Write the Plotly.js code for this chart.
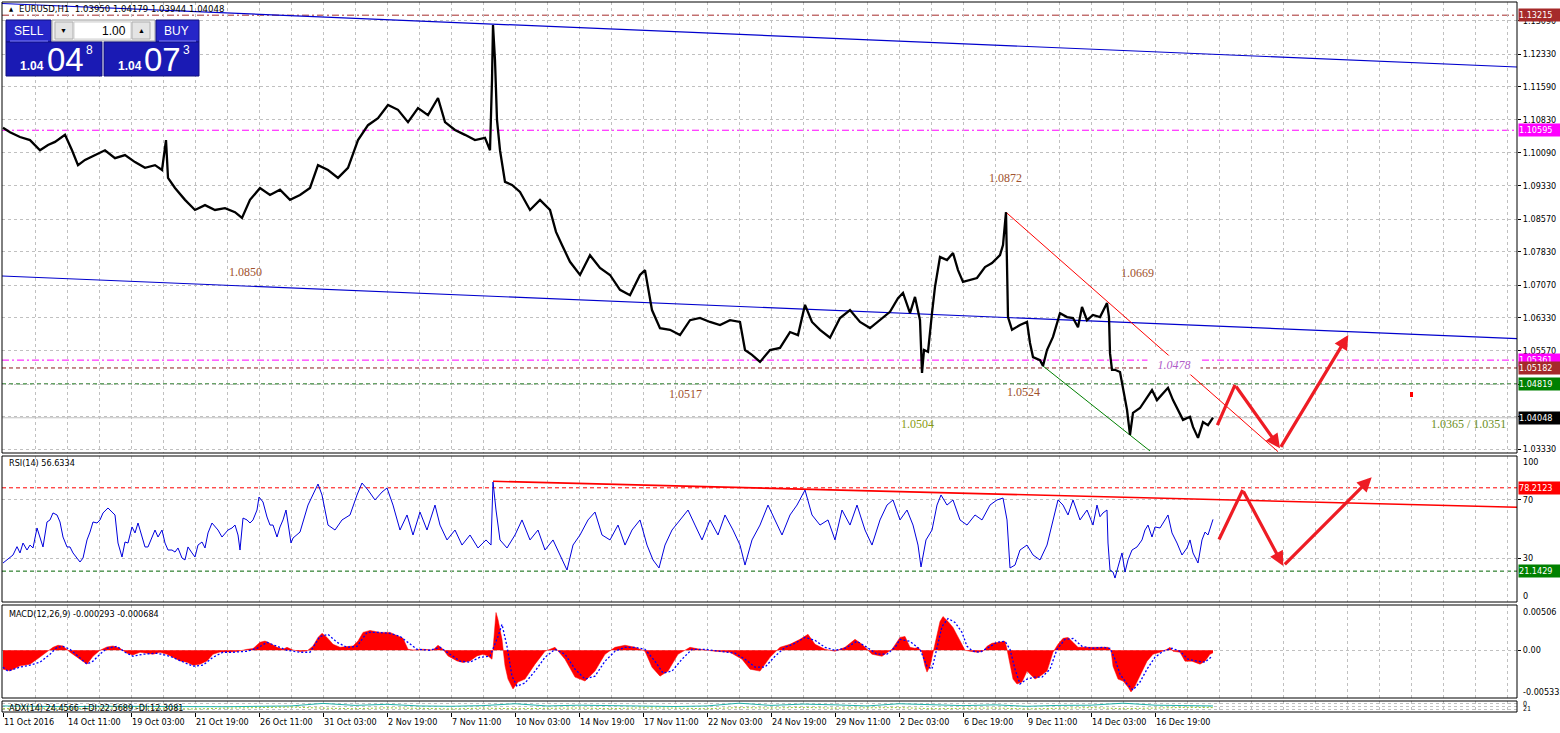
<!DOCTYPE html>
<html>
<head>
<meta charset="utf-8">
<script src="https://cdn.plot.ly/plotly-3.0.1.min.js"></script>
<style>
html,body{margin:0;padding:0;background:#ffffff;overflow:hidden;}
#chart{width:1560px;height:733px;}
</style>
</head>
<body>
<div id="chart"></div>
<script>
// ================= DATA =================
// time axis: bar index (1 bar = 1 hour of trading), labels every 64 bars
const timeTickBars = [0,64,128,192,256,320,384,448,512,576,640,704,768,832,896,960,1024,1088,1152];
const timeTickLabels = ["11 Oct 2016","14 Oct 11:00","19 Oct 03:00","21 Oct 19:00","26 Oct 11:00","31 Oct 03:00","2 Nov 19:00","7 Nov 11:00","10 Nov 03:00","14 Nov 19:00","17 Nov 11:00","22 Nov 03:00","24 Nov 19:00","29 Nov 11:00","2 Dec 03:00","6 Dec 19:00","9 Dec 11:00","14 Dec 03:00","16 Dec 19:00"];
const priceTickVals = [1.13090,1.12330,1.11590,1.10830,1.10090,1.09330,1.08570,1.07830,1.07070,1.06330,1.05570,1.04810,1.04070,1.03330];
const priceTickText = ["1.13090","1.12330","1.11590","1.10830","1.10090","1.09330","1.08570","1.07830","1.07070","1.06330","1.05570","","","1.03330"];

// EURUSD H1 price path
const priceBars = [0,7,17,27,37,45,52,62,69,75,82,92,102,112,122,132,142,152,159,163,165,172,182,192,202,212,222,232,239,247,257,267,277,287,297,307,315,325,335,345,355,365,375,385,395,405,415,425,435,442,452,462,472,482,487,489,490,492,494,497,502,509,517,527,537,547,553,559,567,577,587,597,607,617,627,637,642,649,657,667,677,687,697,707,717,727,737,742,749,757,767,777,787,795,802,809,817,827,837,847,857,867,877,887,895,
900,907,912,917,919,921,925,929,932,937,944,950,955,960,967,974,982,989,997,1000,1003,1004,1005,1009,1017,1024,1027,1030,1037,1040,1044,1050,1057,1064,1070,1075,1079,1084,1090,1097,1104,1106,1107,1109,1112,1117,1120,1124,1127,1130,1137,1144,1149,1154,1160,1165,1170,1175,1180,1187,1190,1195,1200,1205,1210];
const priceVals = [1.1065,1.1055,1.1044,1.1037,1.1014,1.1026,1.1033,1.1049,1.1014,1.0980,1.0992,1.1003,1.1014,1.0996,1.1003,1.0987,1.0974,1.0980,1.0969,1.1037,1.0951,1.0928,1.0901,1.0878,1.0889,1.0878,1.0882,1.0873,1.0860,1.0901,1.0928,1.0912,1.0924,1.0901,1.0912,1.0928,1.0980,1.0969,1.0951,1.0974,1.1037,1.1071,1.1087,1.1117,1.1106,1.1078,1.1110,1.1094,1.1133,1.1078,1.1060,1.1049,1.1037,1.1042,1.1014,1.1174,1.1299,1.1219,1.1083,1.1014,1.0942,1.0935,1.0919,1.0878,1.0901,1.0878,1.0828,1.0798,1.0760,1.0730,1.0775,1.0746,1.0730,1.0696,1.0684,1.0730,1.0741,1.0650,1.0609,1.0605,1.0593,1.0627,1.0632,1.0623,1.0616,1.0627,1.0623,1.0559,1.0548,1.0532,1.0559,1.0564,1.0600,1.0593,1.0662,1.0623,1.0605,1.0587,1.0632,1.0650,1.0623,1.0609,1.0627,1.0646,1.0677,
1.0689,1.0643,1.0680,1.0627,1.0507,1.0559,1.0555,1.0643,1.0703,1.0771,1.0764,1.0780,1.0741,1.0714,1.0719,1.0723,1.0748,1.0757,1.0775,1.0798,1.0873,1.0741,1.0634,1.0605,1.0616,1.0623,1.0575,1.0543,1.0536,1.0523,1.0559,1.0589,1.0643,1.0634,1.0632,1.0611,1.0657,1.0627,1.0639,1.0634,1.0666,1.0634,1.0552,1.0514,1.0514,1.0509,1.0468,1.0423,1.0366,1.0416,1.0427,1.0452,1.0468,1.0445,1.0461,1.0473,1.0445,1.0423,1.0400,1.0407,1.0384,1.0359,1.0395,1.0388,1.0405];

// horizontal levels (main window)
const levelVals = [1.13215,1.10595,1.05361,1.05182,1.04819,1.04048];

// trend lines (main window)
const upperTrendBars = [-1,1514], upperTrendVals = [1.13481,1.12035];
const lowerTrendBars = [-1,1514], lowerTrendVals = [1.07276,1.05851];
const redTrendBars = [1003,1275], redTrendVals = [1.08727,1.03276];
const greenTrendBars = [1040,1147], greenTrendVals = [1.05227,1.03292];
const zigBars = [1213.7,1232,1277,1345.3], zigVals = [1.03845,1.04795,1.03353,1.05933];

// text labels on the chart
const noteTexts = ["1.0850","1.0517","1.0504","1.0872","1.0669","1.0524","1.0478","1.0365 / 1.0351"];

// RSI(14)
const rsiBars = [0,4,10,14,17,20,24,27,30,34,37,40,44,47,50,54,57,60,64,67,70,74,77,80,84,87,90,94,97,100,105,109,112,115,119,122,125,129,132,135,139,142,145,149,152,155,159,162,165,169,172,175,179,182,185,189,192,195,199,202,205,209,212,215,219,222,225,229,232,235,237,240,244,247,250,254,256,260,264,267,270,274,277,280,283,285,288,290,294,297,
305,312,315,319,325,332,339,347,354,359,365,372,379,384,390,397,404,410,417,424,432,437,444,452,459,467,475,483,488,490,493,497,504,512,519,527,535,542,550,557,564,570,577,585,592,599,607,615,622,629,637,644,650,656,662,669,677,685,692,699,707,715,722,730,737,742,749,757,765,772,779,787,794,802,809,817,825,832,839,847,854,862,869,877,884,890,897,904,910,915,918,923,929,934,938,944,950,957,964,972,979,987,994,1000,1004,1007,1012,1017,1024,1030,1037,1044,1050,1055,1060,1065,1070,1077,1084,1090,1094,
1097,1100,1104,1105,1107,1110,1112,1115,1119,1122,1125,1129,1134,1139,1142,1145,1149,1152,1157,1162,1165,1169,1174,1179,1184,1187,1190,1195,1199,1202,1205,1210];
const rsiVals = [26.7,28.8,32.2,37.9,33.6,40.4,35.6,39.0,37.0,50.7,43.8,37.7,54.8,56.2,61.0,59.6,54.8,44.5,37.7,37.7,33.6,30.1,27.4,30.1,42.5,47.9,54.8,54.1,56.2,61.0,64.4,61.6,59.6,40.4,30.8,41.1,40.4,51.4,47.3,54.1,43.8,37.7,37.7,43.8,49.3,44.5,49.3,40.4,35.6,35.6,34.2,37.0,30.1,28.8,37.7,33.6,30.8,39.0,41.1,37.0,47.3,54.1,51.4,49.3,44.5,47.3,49.3,50.7,52.7,45.9,35.6,57.5,56.2,54.1,56.2,63.0,71.9,68.5,58.2,52.7,52.7,44.5,51.4,56.2,63.0,54.1,40.4,43.8,45.9,47.9,
66.4,76.7,80.8,73.3,52.7,49.3,56.2,59.6,73.3,81.5,76.7,69.9,75.3,78.1,66.4,49.3,59.6,45.9,61.6,49.3,66.4,52.7,42.5,49.3,39.0,45.9,37.0,42.5,39.0,82.2,63.0,42.5,37.0,45.9,56.2,42.5,49.3,35.6,42.5,32.2,21.9,39.0,45.9,56.2,61.6,45.9,42.5,52.7,39.0,49.3,56.2,39.0,28.8,23.3,39.0,49.3,56.2,63.0,52.7,42.5,56.2,45.9,59.6,49.3,39.0,25.3,42.5,52.7,66.4,56.2,45.9,59.6,66.4,76.7,59.6,52.7,56.2,42.5,63.0,52.7,66.4,49.3,39.0,56.2,66.4,69.9,56.2,63.0,52.7,39.0,24.0,42.5,49.3,66.4,73.3,66.4,69.9,56.2,52.7,59.6,56.2,66.4,69.9,71.2,56.2,23.3,25.3,35.6,39.0,32.2,28.8,39.0,56.2,69.9,66.4,59.6,69.9,56.2,63.0,52.7,66.4,
58.4,61.0,63.0,40.4,21.9,20.5,16.4,24.0,33.6,20.5,28.8,35.6,37.7,42.5,49.3,52.7,44.5,51.4,50.7,56.2,59.6,47.3,40.4,32.2,37.0,42.5,33.6,26.7,42.5,47.9,45.9,56.6];
const rsiLevels = [78.2123,21.1429];
const rsiTrendBars = [490,1514], rsiTrendVals = [82.7,64.9];
const rsiZigBars = [1215.3,1239.7,1280.3,1368.7], rsiZigVals = [41.8,76.7,24.7,85.4];

// MACD(12,26,9) main (histogram) and signal
const macdBars = [0,7,17,27,34,44,50,55,60,67,74,80,84,90,97,104,110,117,124,130,137,144,150,157,164,170,177,184,190,197,204,210,217,227,234,244,250,257,262,267,274,280,284,290,297,304,310,315,319,324,330,337,344,350,355,360,367,377,387,394,400,405,410,420,430,435,440,445,454,460,467,474,480,485,489,490,493,495,499,502,505,510,515,
522,532,542,552,562,572,582,592,602,612,622,632,642,649,657,665,675,687,697,712,727,739,747,757,767,777,787,797,805,812,822,832,842,852,859,869,879,889,
897,902,907,912,915,919,922,924,927,930,934,937,940,945,950,955,959,962,967,974,980,984,989,997,1002,1004,1007,1010,1014,1019,1024,1027,1032,1037,1044,1050,1055,1060,1065,1070,1075,1080,1087,1097,1105,1108,1110,1115,1120,1125,1128,1132,1137,1144,1150,1157,1164,1167,1170,1177,1182,1189,1197,1202,1207,1210];
const macdVals = [-0.00211,-0.00230,-0.00174,-0.00155,-0.00100,-0.00022,0.00033,0.00056,0.00048,-0.00022,-0.00078,-0.00133,-0.00155,-0.00067,0,0.00037,0.00048,0.00022,-0.00033,-0.00052,-0.00022,-0.00033,-0.00044,-0.00022,-0.00044,-0.00078,-0.00119,-0.00133,-0.00167,-0.00155,-0.00119,-0.00044,-0.00019,-0.00019,-0.00014,0.00011,0.00019,0.00089,0.00103,0.00078,0.00033,0.00011,0.00033,0.00003,-0.00014,-0.00008,0.00048,0.00144,0.00189,0.00144,0.00067,0.00033,0.00044,0.00048,0.00103,0.00200,0.00222,0.00200,0.00200,0.00159,0.00133,0.00011,0.00003,0.00011,0.00003,0.00056,0.00011,-0.00063,-0.00119,-0.00137,-0.00119,-0.00063,-0.00044,-0.00063,-0.00100,0.00011,0.00422,0.00344,0.00122,-0.00174,-0.00322,-0.00433,-0.00355,
-0.00322,-0.00155,-0.00011,0.00033,-0.00100,-0.00300,-0.00344,-0.00233,-0.00044,0.00033,0.00056,0.00033,-0.00011,-0.00189,-0.00289,-0.00233,-0.00044,0.00033,0.00011,-0.00011,-0.00022,-0.00100,-0.00211,-0.00233,-0.00078,0.00033,0.00067,0.00122,0.00178,0.00067,0.00011,-0.00011,0.00033,0.00122,0.00067,-0.00044,-0.00067,0.00011,
0.00144,0.00155,0.00033,0.00022,0.00033,-0.00022,-0.00178,-0.00244,-0.00178,-0.00022,0.00200,0.00322,0.00377,0.00322,0.00255,0.00155,0.00067,0,-0.00011,-0.00022,-0.00011,0.00044,0.00078,0.00089,0.00100,0.00011,-0.00178,-0.00322,-0.00377,-0.00355,-0.00233,-0.00266,-0.00322,-0.00289,-0.00233,-0.00022,0.00067,0.00133,0.00144,0.00089,0.00033,0.00033,0.00033,0.00033,0.00033,0,-0.00178,-0.00322,-0.00344,-0.00411,-0.00466,-0.00400,-0.00289,-0.00122,-0.00044,-0.00022,0.00011,0.00033,-0.00011,-0.00022,-0.00122,-0.00122,-0.00155,-0.00122,-0.00044,-0.00029];
const signalBars = [0,5,17,27,37,47,54,60,67,77,84,90,97,104,114,122,130,140,154,167,180,190,200,210,220,230,244,254,264,274,284,297,307,317,325,334,344,354,364,374,387,397,405,414,427,437,447,457,467,477,487,495,499,504,509,514,
522,532,542,552,562,572,582,592,602,612,622,632,642,652,660,669,679,689,702,717,732,742,752,762,772,782,792,802,812,822,832,842,854,864,874,884,892,
897,907,917,924,929,934,939,945,952,959,964,970,977,984,994,1002,1007,1012,1017,1024,1032,1039,1047,1054,1062,1070,1079,1089,1100,1107,1112,1117,1124,1130,1137,1144,1152,1160,1169,1177,1185,1194,1202,1209];
const signalVals = [-0.00189,-0.00233,-0.00189,-0.00167,-0.00133,-0.00044,0.00033,0.00044,0.00011,-0.00089,-0.00155,-0.00122,-0.00044,0.00022,0.00044,-0.00022,-0.00067,-0.00044,-0.00033,-0.00067,-0.00133,-0.00178,-0.00167,-0.00078,-0.00022,-0.00022,-0.00011,0.00022,0.00089,0.00044,0,-0.00022,-0.00022,0.00155,0.00178,0.00089,0.00033,0.00044,0.00200,0.00200,0.00189,0.00155,0.00089,0.00011,0,0.00033,-0.00044,-0.00122,-0.00133,-0.00078,-0.00067,0.00155,0.00289,0.00044,-0.00289,-0.00400,
-0.00366,-0.00233,-0.00078,0.00011,-0.00044,-0.00211,-0.00322,-0.00289,-0.00122,-0.00011,0.00033,0.00033,0.00011,-0.00122,-0.00255,-0.00233,-0.00100,0.00011,0.00011,-0.00011,-0.00033,-0.00100,-0.00189,-0.00189,-0.00067,0.00033,0.00078,0.00144,0.00111,0.00033,0,0.00022,0.00100,0.00033,-0.00044,-0.00044,0.00033,
0.00122,0.00100,0.00011,-0.00178,-0.00211,0.00011,0.00266,0.00355,0.00311,0.00200,0.00044,-0.00011,-0.00022,0.00022,0.00089,0.00100,0.00011,-0.00211,-0.00377,-0.00322,-0.00300,-0.00300,-0.00211,0.00011,0.00122,0.00133,0.00044,0.00022,0.00033,0.00022,-0.00100,-0.00266,-0.00377,-0.00444,-0.00355,-0.00211,-0.00078,-0.00011,0.00022,-0.00011,-0.00100,-0.00122,-0.00133,-0.00068];

// ADX(14) strip
const adxBars = [0,32,64,96,128,160,192,224,256,288,320,352,384,416,448,480,512,544,576,608,640,672,704,736,768,800,832,864,896,928,960,992,1024,1056,1088,1120,1152,1184,1210];
const adxVals = [55,50,48,52,50,47,50,48,52,55,78,60,70,55,52,58,75,55,62,58,52,50,55,80,60,72,65,55,75,68,58,65,52,60,62,80,62,58,55];
const pdiVals = [30,35,28,32,38,30,28,35,40,45,35,30,38,32,28,35,30,33,36,30,38,35,30,40,36,42,35,38,40,30,32,36,28,35,40,30,38,42,40];

// ================= LAYOUT HELPERS =================
const W=1560,H=733,ML=2,MR=43,MT=2,MB=21,PW=W-ML-MR,PH=H-MT-MB;
const px=x=>(x-ML)/PW, py=y=>(H-MB-y)/PH;
const FONT='DejaVu Sans Condensed, DejaVu Sans, sans-serif';
const UIF='Liberation Sans, Arial, sans-serif';
const SERIF='Liberation Serif, Times New Roman, serif';
const dMain=[py(453),1], dRsi=[py(602),py(456)], dMacd=[py(698),py(605)], dAdx=[0,py(701)];
const gridCol='#c0c0c0', gridDash='3px,3px';
const tf={family:FONT,size:9,color:'#000'};

const traces=[
 {x:upperTrendBars,y:upperTrendVals,yaxis:'y',mode:'lines',line:{color:'#0000cd',width:1.2}},
 {x:lowerTrendBars,y:lowerTrendVals,yaxis:'y',mode:'lines',line:{color:'#0000cd',width:1.2}},
 {x:redTrendBars,y:redTrendVals,yaxis:'y',mode:'lines',line:{color:'#ff0000',width:1}},
 {x:greenTrendBars,y:greenTrendVals,yaxis:'y',mode:'lines',line:{color:'#008000',width:1}},
 {x:priceBars,y:priceVals,yaxis:'y',mode:'lines',line:{color:'#000000',width:2.3}},
 {x:rsiTrendBars,y:rsiTrendVals,yaxis:'y2',mode:'lines',line:{color:'#ff0000',width:1.6}},
 {x:rsiBars,y:rsiVals,yaxis:'y2',mode:'lines',line:{color:'#0000dd',width:1}},
 {x:macdBars,y:macdVals,yaxis:'y3',mode:'lines',fill:'tozeroy',fillcolor:'#ff0000',line:{color:'#ff0000',width:0.5}},
 {x:signalBars,y:signalVals,yaxis:'y3',mode:'lines',line:{color:'#0000ff',width:1.3,dash:'2px,2px'}},
 {x:adxBars,y:adxVals,yaxis:'y4',mode:'lines',line:{color:'#20b2aa',width:1}},
 {x:adxBars,y:pdiVals,yaxis:'y4',mode:'lines',line:{color:'#9acd32',width:1,dash:'2px,2px'}}
].map(t=>Object.assign({xaxis:'x',hoverinfo:'skip',showlegend:false},t));

// ---------- shapes ----------
const shapes=[];
[dMain,dRsi,dMacd,dAdx].forEach(d=>shapes.push({type:'rect',xref:'paper',yref:'paper',x0:0,x1:1,y0:d[0],y1:d[1],line:{color:'#000',width:1},fillcolor:'rgba(0,0,0,0)',layer:'above'}));
const levelStyles=[
 {color:'#a52a2a',dash:'7px,3px,2px,3px'},
 {color:'#ff00ff',dash:'7px,3px,2px,3px'},
 {color:'#ff00ff',dash:'7px,3px,2px,3px'},
 {color:'#8b1a1a',dash:'4px,3px'},
 {color:'#006400',dash:'4px,3px'},
 {color:'#c0c0c0',dash:'solid'}
];
levelVals.forEach((v,i)=>shapes.push({type:'line',xref:'paper',yref:'y',x0:0,x1:1,y0:v,y1:v,line:{color:levelStyles[i].color,width:1,dash:levelStyles[i].dash},layer:'below'}));
const rsiLevelCols=['#ff0000','#006400'];
rsiLevels.forEach((v,i)=>shapes.push({type:'line',xref:'paper',yref:'y2',x0:0,x1:1,y0:v,y1:v,line:{color:rsiLevelCols[i],width:1,dash:'4px,3px'},layer:'below'}));
// small red marker
shapes.push({type:'rect',xref:'paper',yref:'paper',x0:px(1410),x1:px(1413),y0:py(397),y1:py(392),fillcolor:'#ff0000',line:{width:0}});
// one-click trading panel
const box=(x0,y0,x1,y1,fill,line)=>shapes.push({type:'rect',xref:'paper',yref:'paper',x0:px(x0),x1:px(x1),y0:py(y1),y1:py(y0),fillcolor:fill,line:{color:line,width:1},layer:'above'});
box(6,20,51,42,'#2626c8','#101080');
box(52,20,155,41,'#f0f0f0','#a0a0a0');
box(55,22,73,39,'#e4e4e4','#b0b0b0');
box(74,22,131,39,'#ffffff','#d0d0d0');
box(132,22,150,39,'#e4e4e4','#b0b0b0');
box(156,20,199,42,'#2626c8','#101080');
box(6,42,102,76,'#1a1ab4','#101080');
box(104,42,199,76,'#1a1ab4','#101080');
shapes.push({type:'line',xref:'paper',yref:'paper',x0:px(10),x1:px(48),y0:py(41),y1:py(41),line:{color:'#8080ff',width:1},layer:'above'});
shapes.push({type:'line',xref:'paper',yref:'paper',x0:px(159),x1:px(196),y0:py(41),y1:py(41),line:{color:'#8080ff',width:1},layer:'above'});

// ---------- annotations ----------
const ann=[];
// time labels
timeTickBars.forEach((b,i)=>ann.push({xref:'x',yref:'paper',x:b,y:py(721.5),text:timeTickLabels[i],showarrow:false,xanchor:'left',yanchor:'middle',xshift:-1,font:tf}));
// chart notes
const notePos=[[245,272],[685,394],[917,424],[1005,178],[1137,273],[1023,392],[1174,365],[1468,424]];
const noteCols=['#a0522d','#a0522d','#8a9a10','#a0522d','#a0522d','#a0522d','#b05cc8','#6b8e23'];
noteTexts.forEach((t,i)=>{
  const a={xref:'paper',yref:'paper',x:px(notePos[i][0]),y:py(notePos[i][1]),text:(i===6?'<i>'+t+'</i>':t),showarrow:false,xanchor:'center',yanchor:'middle',font:{family:SERIF,size:12,color:noteCols[i]}};
  if(i===6){a.bgcolor='#ffffff';a.width=50;a.height=16;}
  ann.push(a);
});
// zigzag arrows
const zig=(bars,vals,yr)=>{for(let i=0;i<bars.length-1;i++){ann.push({xref:'x',yref:yr,axref:'x',ayref:yr,x:bars[i+1],y:vals[i+1],ax:bars[i],ay:vals[i],text:'',showarrow:true,arrowhead:i===0?0:2,arrowsize:0.9,arrowwidth:3.2,arrowcolor:'#ee1c24',standoff:0,startstandoff:0});}};
zig(zigBars,zigVals,'y');
zig(rsiZigBars,rsiZigVals,'y2');
// price tags at right
const tagCols=['#a52a2a','#ff00ff','#ff00ff','#a52a2a','#008000','#000000'];
levelVals.forEach((v,i)=>ann.push({xref:'paper',yref:'y',x:px(1518),y:v,text:v.toFixed(5),showarrow:false,xanchor:'left',yanchor:'middle',bgcolor:tagCols[i],width:42,height:12,borderpad:0,align:'left',font:{family:FONT,size:9,color:'#ffffff'}}));
const rsiTagCols=['#ff0000','#008000'];
rsiLevels.forEach((v,i)=>ann.push({xref:'paper',yref:'y2',x:px(1518),y:v,text:v.toFixed(4),showarrow:false,xanchor:'left',yanchor:'middle',bgcolor:rsiTagCols[i],width:42,height:12,borderpad:0,align:'left',font:{family:FONT,size:9,color:'#ffffff'}}));
// extra axis labels
const sideLbl=(t,y)=>ann.push({xref:'paper',yref:'paper',x:px(1521),y:py(y),text:t,showarrow:false,xanchor:'left',yanchor:'middle',font:tf});
sideLbl('100',462); sideLbl('0',596); sideLbl('0.00506',612); sideLbl('-0.005335',692);
ann.push({xref:'paper',yref:'paper',x:px(1521),y:py(704),text:'0',showarrow:false,xanchor:'left',yanchor:'middle',font:{family:FONT,size:7,color:'#000'}});
ann.push({xref:'paper',yref:'paper',x:px(1521),y:py(709),text:'21',showarrow:false,xanchor:'left',yanchor:'middle',font:{family:FONT,size:7,color:'#000'}});
// indicator titles
const ttl=(t,x,y,s)=>ann.push({xref:'paper',yref:'paper',x:px(x),y:py(y),text:t,showarrow:false,xanchor:'left',yanchor:'middle',font:{family:FONT,size:s||9,color:'#000'}});
ttl('RSI(14) 56.6334',7,463);
ttl('MACD(12,26,9) -0.000293 -0.000684',7,614);
ttl('ADX(14) 24.4566 +DI:22.5689 -DI:12.3081',7,708);
// header
ann.push({xref:'paper',yref:'paper',x:px(7),y:py(9),text:'▲',showarrow:false,xanchor:'left',yanchor:'middle',font:{family:FONT,size:6,color:'#000'}});
ttl('EURUSD,H1  1.03950 1.04179 1.03944 1.04048',17,9,9.5);
// one-click panel texts
const ui=(t,x,y,size,anchor,bold,col)=>ann.push({xref:'paper',yref:'paper',x:px(x),y:py(y),text:bold?'<b>'+t+'</b>':t,showarrow:false,xanchor:anchor,yanchor:'middle',font:{family:UIF,size:size,color:col||'#ffffff'}});
ui('SELL',28.5,31,12,'center',false);
ui('BUY',176,31,12,'center',false);
ui('1.00',128,31,12,'right',false,'#000000');
ui('▼',64,31,7,'center',false,'#000000');
ui('▲',141,31,7,'center',false,'#000000');
ui('1.04',32,66,12,'center',true);
ui('04',65,59,33,'center',false);
ui('8',89,50,12,'center',false);
ui('1.04',130,66,12,'center',true);
ui('07',162,59,33,'center',false);
ui('3',186,50,12,'center',false);

const layout={
 width:W,height:H,margin:{l:ML,r:MR,t:MT,b:MB,pad:0},
 paper_bgcolor:'#ffffff',plot_bgcolor:'#ffffff',showlegend:false,hovermode:false,
 xaxis:{domain:[0,1],range:[-1,1514],anchor:'y4',tickmode:'array',tickvals:timeTickBars,showticklabels:false,ticks:'outside',ticklen:4,tickcolor:'#000',tickwidth:1,showgrid:false,zeroline:false,showline:false,fixedrange:true,
   minor:{tickmode:'linear',tick0:0,dtick:32,showgrid:true,gridcolor:gridCol,griddash:gridDash,gridwidth:1,ticks:''}},
 yaxis:{domain:dMain,range:[1.03246,1.13515],side:'right',anchor:'x',tickmode:'array',tickvals:priceTickVals,ticktext:priceTickText,ticks:'outside',ticklen:3,tickcolor:'#000',tickfont:tf,showgrid:true,gridcolor:gridCol,griddash:gridDash,zeroline:false,showline:false,fixedrange:true},
 yaxis2:{domain:dRsi,range:[0,100],side:'right',anchor:'x',tickmode:'array',tickvals:[70,30],ticktext:['70','30'],ticks:'outside',ticklen:3,tickcolor:'#000',tickfont:tf,showgrid:true,gridcolor:gridCol,griddash:gridDash,zeroline:false,showline:false,fixedrange:true},
 yaxis3:{domain:dMacd,range:[-0.005335,0.00506],side:'right',anchor:'x',tickmode:'array',tickvals:[0],ticktext:['0.00'],ticks:'outside',ticklen:3,tickcolor:'#000',tickfont:tf,showgrid:true,gridcolor:gridCol,griddash:gridDash,zeroline:false,showline:false,fixedrange:true},
 yaxis4:{domain:dAdx,range:[0,100],side:'right',anchor:'x',tickmode:'array',tickvals:[25,50,75],showticklabels:false,ticks:'',showgrid:true,gridcolor:gridCol,griddash:gridDash,zeroline:false,showline:false,fixedrange:true},
 shapes:shapes,annotations:ann
};
Plotly.newPlot('chart',traces,layout,{displayModeBar:false,staticPlot:true});
</script>
</body>
</html>
